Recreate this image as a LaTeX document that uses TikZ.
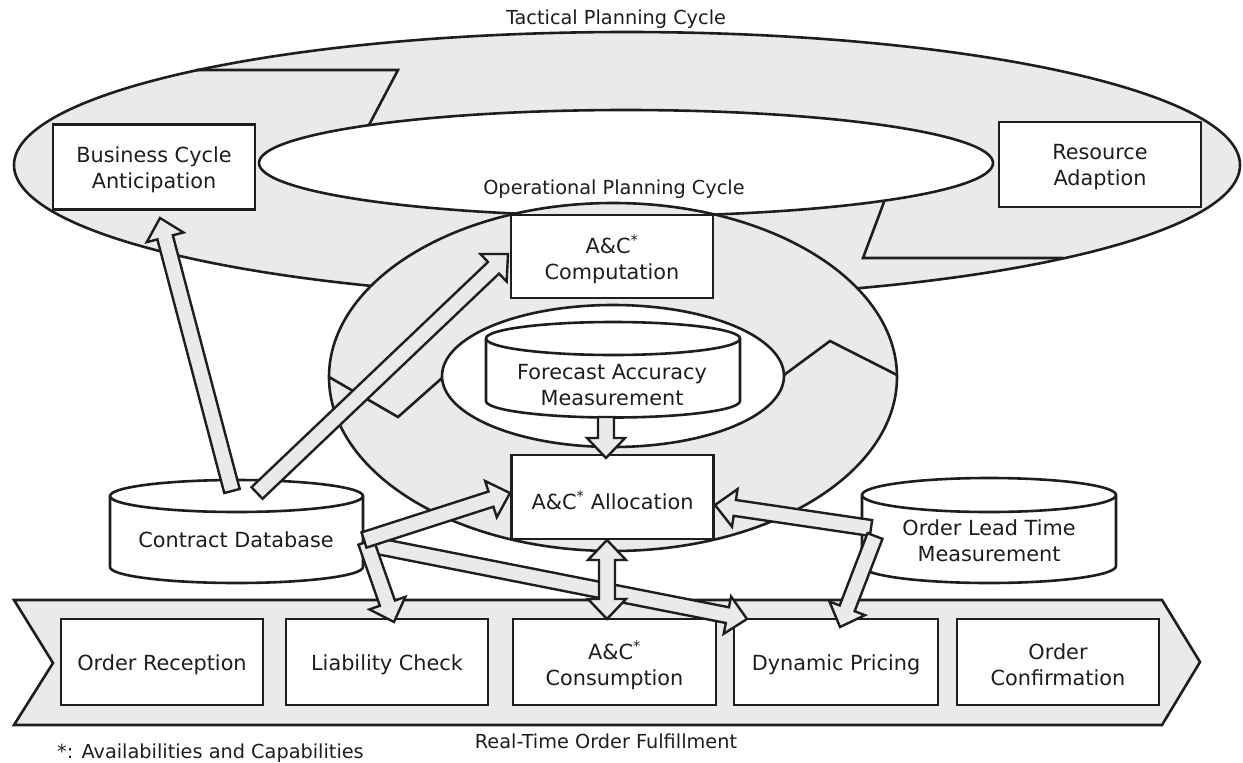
\documentclass[tikz,border=0pt]{standalone}
\usepackage{fontspec}
\setmainfont{DejaVu Sans}
\usetikzlibrary{calc}
\definecolor{lc}{RGB}{30,30,30}
\definecolor{fg}{RGB}{234,234,234}
\definecolor{tc}{RGB}{30,30,30}
\newcommand\bxf{\fontsize{20.8}{26}\selectfont}
\newcommand\lbf{\fontsize{19.3}{23}\selectfont}
\tikzset{
 ln/.style={draw=lc, line width=2.6pt, line join=miter},
 ring/.style={draw=lc, line width=2.6pt, fill=fg},
 hole/.style={draw=lc, line width=2.6pt, fill=white},
 band/.style={draw=lc, line width=2.6pt, fill=fg, line join=miter},
 box/.style={draw=lc, line width=2.8pt, fill=white, minimum width=202pt, minimum height=85pt, inner sep=0pt, outer sep=0pt},
 txt/.style={align=center, font=\bxf, text=tc, inner sep=0pt},
 lbl/.style={font=\lbf, text=tc, inner sep=0pt},
 cylst/.style={draw=lc, line width=2.6pt, fill=white},
 barr/.style={draw=lc, line width=2.4pt, fill=fg, line join=miter},
}
% single block arrow from #1 to #2
\newcommand\sarrow[2]{%
 \coordinate (arrH) at ($(#2)!20pt!(#1)$);
 \draw[barr] ($(#1)!8pt!90:(#2)$) -- ($(arrH)!8pt!90:(#2)$) -- ($(arrH)!19pt!90:(#2)$) -- (#2)
   -- ($(arrH)!19pt!-90:(#2)$) -- ($(arrH)!8pt!-90:(#2)$) -- ($(#1)!8pt!-90:(#2)$) -- cycle;}
% double block arrow
\newcommand\darrow[2]{%
 \coordinate (arrP) at ($(#1)!20pt!(#2)$);
 \coordinate (arrQ) at ($(#2)!20pt!(#1)$);
 \draw[barr] (#1) -- ($(arrP)!19pt!90:(#2)$) -- ($(arrP)!8pt!90:(#2)$) -- ($(arrQ)!8pt!90:(#2)$)
   -- ($(arrQ)!19pt!90:(#2)$) -- (#2) -- ($(arrQ)!19pt!-90:(#2)$) -- ($(arrQ)!8pt!-90:(#2)$)
   -- ($(arrP)!8pt!-90:(#2)$) -- ($(arrP)!19pt!-90:(#2)$) -- cycle;}
% cylinder: x1, ytop, ybottom, rx, ry
\newcommand\cyl[5]{%
 \draw[cylst] (#1,#2) -- (#1,#3) arc[start angle=180,end angle=360,x radius=#4pt,y radius=#5pt]
   -- ++(0,{#2-#3}) arc[start angle=0,end angle=180,x radius=#4pt,y radius=#5pt] -- cycle;
 \draw[cylst,fill=none] (#1,#2) arc[start angle=180,end angle=360,x radius=#4pt,y radius=#5pt];}
% box text, slightly below the box centre
\newcommand\boxtext[3]{\node[txt] (#1) at ($(#2.center)+(0,3)$) {#3};}
\begin{document}
\begin{tikzpicture}[x=1pt,y=-1pt]
\useasboundingbox (0,0) rectangle (1243,763);
% tactical planning cycle
\draw[ring] (627,165) ellipse[x radius=613pt,y radius=133pt];
\draw[hole] (626,163) ellipse[x radius=367pt,y radius=53pt];
\draw[ln] (196,70) -- (398,70) -- (369,125);
\draw[ln] (884,202) -- (863,258) -- (1063,258);
\node[lbl, anchor=base] (tpc) at (616,24) {Tactical Planning Cycle};
\node[box] (bca) at (154,167) {};
\boxtext{bcat}{bca}{Business Cycle\\Anticipation}
\node[box] (ra) at (1100,164.5) {};
\boxtext{rat}{ra}{Resource\\Adaption}
% operational planning cycle
\draw[ring] (613,377) ellipse[x radius=284pt,y radius=174pt];
\draw[hole] (613,376) ellipse[x radius=171pt,y radius=71pt];
\draw[ln] (329,377) -- (398,417) -- (442,378);
\draw[ln] (784,375) -- (830,341) -- (897,375);
\node[lbl, anchor=base] (opc) at (614,194) {Operational Planning Cycle};
\node[box, minimum height=83pt] (acc) at (612,256.5) {};
\boxtext{acct}{acc}{A\&C\textsuperscript{*}\\Computation}
\node[box, minimum height=84pt] (aca) at (612.5,497) {};
\boxtext{acat}{aca}{A\&C\textsuperscript{*} Allocation}
\cyl{486}{338.5}{401}{127}{16.5}
\node[txt] (fam) at (612,385) {Forecast Accuracy\\Measurement};
% databases
\cyl{110}{496}{567}{126.5}{16}
\node[txt] (cdb) at (236,540) {Contract Database};
\cyl{862}{495}{566}{127}{17}
\node[txt] (oltm) at (989,541) {Order Lead Time\\Measurement};
% real-time order fulfillment
\draw[band] (14,600) -- (1162,600) -- (1200,662) -- (1162,725) -- (14,725) -- (53,663) -- cycle;
\node[box, minimum height=86pt] (orc) at (162,662) {};
\boxtext{orct}{orc}{Order Reception}
\node[box, minimum height=86pt] (lch) at (387,662) {};
\boxtext{lcht}{lch}{Liability Check}
\node[box, minimum height=86pt, minimum width=203pt] (acs) at (614.5,662) {};
\boxtext{acst}{acs}{A\&C\textsuperscript{*}\\Consumption}
\node[box, minimum height=86pt, minimum width=204pt] (dyp) at (836,662) {};
\boxtext{dypt}{dyp}{Dynamic Pricing}
\node[box, minimum height=86pt] (ocf) at (1058,662) {};
\boxtext{ocft}{ocf}{Order\\Confirmation}
\node[lbl, anchor=base] (rtof) at (606,748) {Real-Time Order Fulfillment};
\node[lbl, anchor=base west] (fn) at (57,758) {*: Availabilities and Capabilities};
% arrow end points
\coordinate (a1s) at (232,491); \coordinate (a1e) at (160,218);
\coordinate (a2s) at (257,493); \coordinate (a2e) at (508,254);
\coordinate (a3s) at (364,540); \coordinate (a3e) at (510,493);
\coordinate (a4s) at (366,542); \coordinate (a4e) at (394,622);
\coordinate (a5s) at (372,545); \coordinate (a5e) at (747,619);
\coordinate (d1) at (607,540); \coordinate (d2) at (607,619);
\coordinate (a6s) at (871,528); \coordinate (a6e) at (715,505);
\coordinate (a7s) at (875,536); \coordinate (a7e) at (840,627);
\coordinate (a8s) at (606,417); \coordinate (a8e) at (606,458);
% arrows
\sarrow{a1s}{a1e}
\sarrow{a2s}{a2e}
\sarrow{a5s}{a5e}
\sarrow{a4s}{a4e}
\sarrow{a3s}{a3e}
\darrow{d1}{d2}
\sarrow{a6s}{a6e}
\sarrow{a7s}{a7e}
\sarrow{a8s}{a8e}
\end{tikzpicture}
\end{document}
